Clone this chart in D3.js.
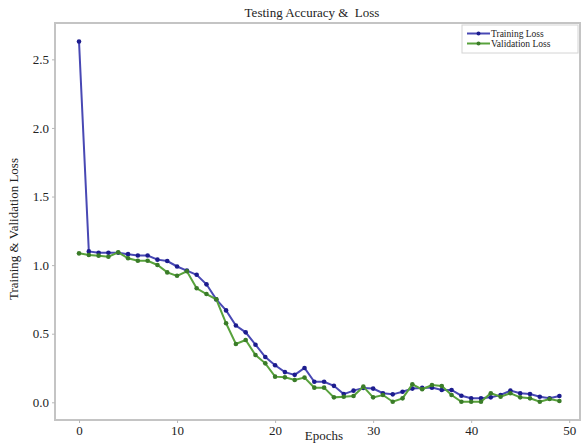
<!DOCTYPE html>
<html>
<head>
<meta charset="utf-8">
<script src="https://cdn.jsdelivr.net/npm/d3@7"></script>
<style>
  body { margin: 0; background: #fff; }
  svg text { font-family: "Liberation Serif", "Times New Roman", serif; fill: #222; }
</style>
</head>
<body>
<svg id="chart" width="584" height="446"></svg>
<script>
// values
const epochs = d3.range(0, 50);
const trainingLoss = [
  2.63, 1.10, 1.09, 1.09, 1.09, 1.08, 1.07, 1.07, 1.04, 1.03,
  0.99, 0.96, 0.93, 0.86, 0.75, 0.67, 0.56, 0.51, 0.42, 0.33,
  0.27, 0.22, 0.20, 0.25, 0.15, 0.15, 0.12, 0.06, 0.085, 0.105,
  0.10, 0.066, 0.058, 0.077, 0.10, 0.105, 0.107, 0.09, 0.09, 0.048,
  0.03, 0.03, 0.036, 0.053, 0.085, 0.066, 0.06, 0.041, 0.03, 0.046
];
const validationLoss = [
  1.086, 1.074, 1.069, 1.061, 1.093, 1.05, 1.032, 1.032, 1.001, 0.947,
  0.922, 0.955, 0.831, 0.789, 0.751, 0.576, 0.425, 0.454, 0.345, 0.284,
  0.187, 0.182, 0.163, 0.18, 0.107, 0.107, 0.036, 0.041, 0.046, 0.114,
  0.036, 0.053, 0.004, 0.029, 0.131, 0.095, 0.126, 0.119, 0.053, 0.004,
  0.004, 0.004, 0.066, 0.041, 0.066, 0.036, 0.029, 0.004, 0.024, 0.009
];
const xTicks = [0, 10, 20, 30, 40, 50];
const yTicks = [0.0, 0.5, 1.0, 1.5, 2.0, 2.5];

const series = [
  { name: 'Training Loss', values: trainingLoss, line: '#4848b4', dot: '#1c1c8e' },
  { name: 'Validation Loss', values: validationLoss, line: '#58a23c', dot: '#3a7c28' }
];

const svg = d3.select('#chart'),
  mLeft = 55, mTop = 23, mRight = 580, mBottom = 420;

const x = d3.scaleLinear().domain([-2.45, 51.1]).range([mLeft, mRight]);
const y = d3.scaleLinear().domain([-0.129, 2.765]).range([mBottom, mTop]);

// frame
svg.append('rect')
  .attr('x', mLeft).attr('y', mTop)
  .attr('width', mRight - mLeft).attr('height', mBottom - mTop)
  .attr('fill', 'none')
  .attr('stroke', '#c4c4c4')
  .attr('stroke-width', 2);

// axes
const xAxis = svg.append('g')
  .attr('transform', 'translate(0,' + mBottom + ')')
  .call(d3.axisBottom(x).tickValues(xTicks).tickSize(3).tickPadding(3).tickFormat(d3.format('d')));
const yAxis = svg.append('g')
  .attr('transform', 'translate(' + mLeft + ',0)')
  .call(d3.axisLeft(y).tickValues(yTicks).tickSize(3).tickPadding(3).tickFormat(d3.format('.1f')));

[xAxis, yAxis].forEach(function(g) {
  g.select('.domain').remove();
  g.selectAll('.tick line').attr('stroke', '#b8b8b8');
  g.selectAll('.tick text')
    .style('font-family', '"Liberation Serif", "Times New Roman", serif')
    .style('font-size', '13px')
    .attr('fill', '#222');
});

// lines + markers
const line = d3.line()
  .x(function(d, i) { return x(epochs[i]); })
  .y(function(d) { return y(d); });

series.forEach(function(s) {
  svg.append('path')
    .datum(s.values)
    .attr('fill', 'none')
    .attr('stroke', s.line)
    .attr('stroke-width', 2)
    .attr('d', line);
  svg.append('g')
    .selectAll('circle')
    .data(s.values)
    .enter()
    .append('circle')
    .attr('cx', function(d, i) { return x(epochs[i]); })
    .attr('cy', function(d) { return y(d); })
    .attr('r', 2.3)
    .attr('fill', s.dot);
});

// title and labels
svg.append('text')
  .attr('x', 312).attr('y', 17)
  .attr('text-anchor', 'middle')
  .style('font-size', '13px')
  .style('white-space', 'pre')
  .text('Testing Accuracy &  Loss');

svg.append('text')
  .attr('x', 324).attr('y', 440)
  .attr('text-anchor', 'middle')
  .style('font-size', '13px')
  .text('Epochs');

svg.append('text')
  .attr('transform', 'translate(18,229)rotate(-90)')
  .attr('text-anchor', 'middle')
  .style('font-size', '13px')
  .text('Training & Validation Loss');

// legend
const legend = svg.append('g');
legend.append('rect')
  .attr('x', 462).attr('y', 25)
  .attr('width', 116).attr('height', 28)
  .attr('fill', '#fff')
  .attr('stroke', '#d4d4d4')
  .attr('stroke-width', 1);

series.forEach(function(s, i) {
  const ly = 33.5 + i * 10;
  legend.append('line')
    .attr('x1', 467).attr('x2', 490)
    .attr('y1', ly).attr('y2', ly)
    .attr('stroke', s.line)
    .attr('stroke-width', 2);
  legend.append('circle')
    .attr('cx', 478.5).attr('cy', ly)
    .attr('r', 2)
    .attr('fill', s.dot);
  legend.append('text')
    .attr('x', 491).attr('y', ly + 3.2)
    .style('font-size', '9.5px')
    .text(s.name);
});
</script>
</body>
</html>
